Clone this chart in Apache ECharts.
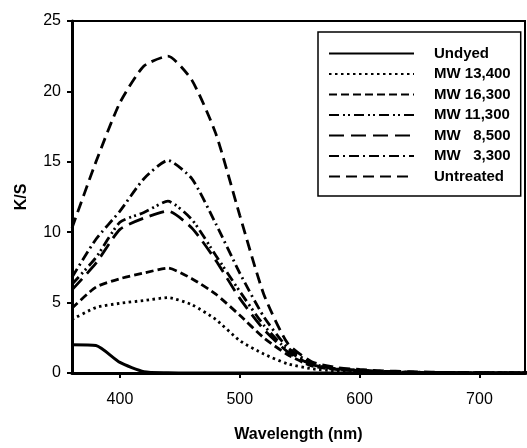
<!DOCTYPE html>
<html>
<head>
<meta charset="utf-8">
<title>K/S vs wavelength</title>
<script src="https://cdn.jsdelivr.net/npm/echarts@6.0.0/dist/echarts.min.js"></script>
<style>
  html, body { margin: 0; padding: 0; background: #fff; }
  #chart { width: 527px; height: 448px; }
</style>
</head>
<body>
<div id="chart"></div>
<script>
// wavelength (nm), one point every 20 nm
const wavelengths = [360, 380, 400, 420, 440, 460, 480, 500, 520, 540, 560, 580, 600, 620, 640, 660, 680, 700, 720, 740];

// K/S values
const undyed    = [2.0, 1.95, 0.75, 0.1, 0.02, 0, 0, 0, 0, 0, 0, 0, 0, 0, 0, 0, 0, 0, 0, 0];
const mw13400   = [3.8, 4.65, 4.95, 5.15, 5.35, 4.85, 3.8, 2.3, 1.35, 0.65, 0.3, 0.15, 0.1, 0.06, 0.04, 0.03, 0.02, 0.01, 0.01, 0];
const mw16300   = [4.6, 6.1, 6.7, 7.1, 7.45, 6.7, 5.6, 4.1, 2.5, 1.3, 0.5, 0.25, 0.15, 0.08, 0.05, 0.03, 0.02, 0.01, 0.01, 0];
const mw11300   = [6.3, 8.2, 10.7, 11.4, 12.2, 10.9, 8.35, 5.8, 3.4, 1.6, 0.6, 0.3, 0.18, 0.1, 0.06, 0.04, 0.02, 0.01, 0.01, 0];
const mw8500    = [5.9, 7.8, 10.2, 11.0, 11.5, 10.3, 8.0, 5.3, 3.1, 1.5, 0.6, 0.3, 0.18, 0.1, 0.06, 0.04, 0.02, 0.01, 0.01, 0];
const mw3300    = [6.8, 9.5, 11.5, 13.8, 15.1, 13.8, 10.6, 7.1, 4.0, 1.8, 0.7, 0.3, 0.2, 0.12, 0.07, 0.04, 0.02, 0.01, 0.01, 0];
const untreated = [10.3, 15.0, 19.2, 21.8, 22.5, 20.8, 17.0, 11.2, 5.6, 2.1, 0.8, 0.4, 0.25, 0.15, 0.1, 0.06, 0.04, 0.02, 0.01, 0];

const xTicks = [400, 500, 600, 700];

const names = ['Undyed', 'MW 13,400', 'MW 16,300', 'MW 11,300', 'MW   8,500', 'MW   3,300', 'Untreated'];

const FONT = '"Liberation Sans", Arial, sans-serif';

function pairs(values) {
  return wavelengths.map((w, i) => [w, values[i]]);
}

function line(name, values, dash, width) {
  return {
    name: name,
    type: 'line',
    data: pairs(values),
    showSymbol: false,
    symbol: 'none',
    smooth: 0.2,
    lineStyle: { color: '#000', width: width || 2.8, type: dash, cap: 'butt' },
    itemStyle: { color: '#000' },
  };
}

const chart = echarts.init(document.getElementById('chart'));
const option = {
  animation: false,
  textStyle: { fontFamily: FONT, color: '#000' },
  grid: {
    left: 72,
    right: 2,
    top: 21,
    bottom: 73,
    show: true,
    borderColor: '#000',
    borderWidth: 2,
  },
  legend: {
    orient: 'vertical',
    left: 318,
    top: 32,
    padding: [14, 10, 12, 10],
    itemWidth: 85,
    itemHeight: 14,
    itemGap: 5.5,
    borderColor: '#000',
    borderWidth: 1.5,
    backgroundColor: '#fff',
    data: names,
    itemStyle: { color: 'rgba(0,0,0,0)', borderWidth: 0, opacity: 0 },
    textStyle: {
      fontFamily: FONT,
      fontWeight: 'bold',
      fontSize: 15,
      lineHeight: 14,
      color: '#000',
      padding: [0, 0, 0, 15],
    },
  },
  xAxis: {
    type: 'value',
    min: 360,
    max: 738,
    name: 'Wavelength (nm)',
    nameLocation: 'middle',
    nameGap: 54,
    nameTextStyle: { fontFamily: FONT, fontWeight: 'bold', fontSize: 16, color: '#000' },
    splitLine: { show: false },
    axisLine: { onZero: false, lineStyle: { color: '#000', width: 3 } },
    axisTick: { show: true, customValues: xTicks, length: 5, lineStyle: { color: '#000', width: 2 } },
    axisLabel: { customValues: xTicks, fontFamily: FONT, fontSize: 16, color: '#000', margin: 19 },
  },
  yAxis: {
    type: 'value',
    min: 0,
    max: 25,
    interval: 5,
    name: 'K/S',
    nameLocation: 'middle',
    nameRotate: 90,
    nameGap: 42,
    nameTextStyle: { fontFamily: FONT, fontWeight: 'bold', fontSize: 16, color: '#000' },
    splitLine: { show: false },
    axisLine: { show: true, lineStyle: { color: '#000', width: 3 } },
    axisTick: { show: true, length: 5, lineStyle: { color: '#000', width: 2 } },
    axisLabel: { fontFamily: FONT, fontSize: 16, color: '#000', margin: 11 },
  },
  series: [
    line(names[0], undyed, 'solid', 3),
    line(names[1], mw13400, [2.5, 3.5]),
    line(names[2], mw16300, [8, 4]),
    line(names[3], mw11300, [10, 4, 2, 3, 2, 4]),
    line(names[4], mw8500, [15, 7]),
    line(names[5], mw3300, [10, 4, 2, 4]),
    line(names[6], untreated, [11, 6]),
  ],
};

chart.setOption(option);
</script>
</body>
</html>
